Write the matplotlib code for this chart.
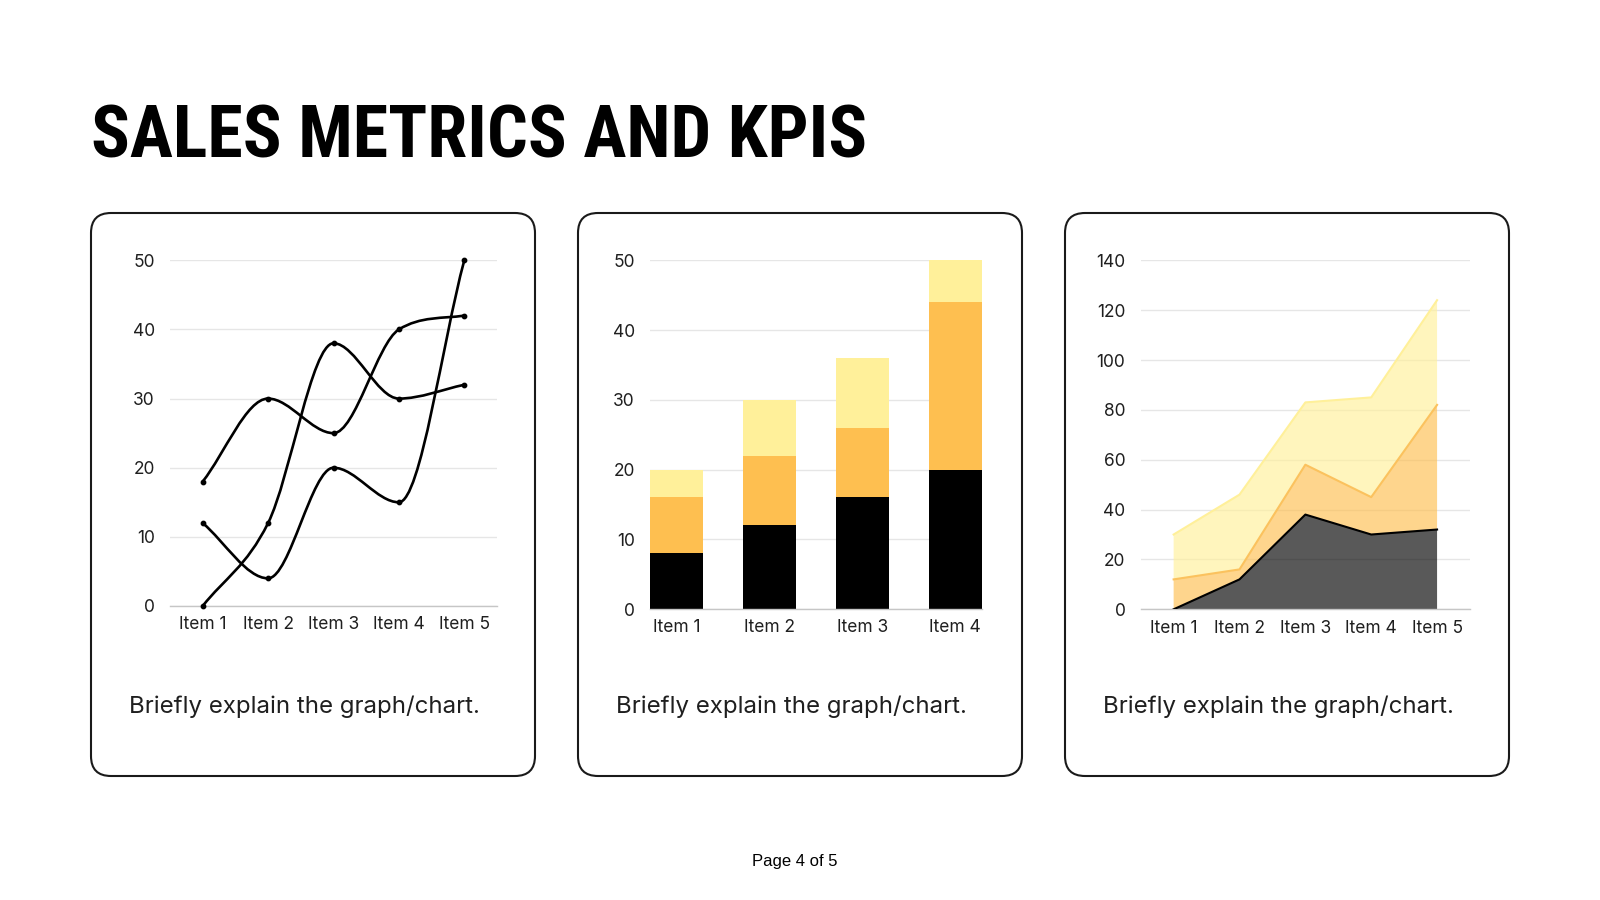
import numpy as np
import matplotlib
matplotlib.use("Agg")
import matplotlib.pyplot as plt
from matplotlib.path import Path
from matplotlib.patches import PathPatch, FancyBboxPatch

# ---------------- data ----------------
line_items = ["Item 1", "Item 2", "Item 3", "Item 4", "Item 5"]
line_a = [18, 30, 25, 40, 42]
line_b = [12, 4, 20, 15, 50]
line_c = [0, 12, 38, 30, 32]
line_ticks = [0, 10, 20, 30, 40, 50]

bar_items = ["Item 1", "Item 2", "Item 3", "Item 4"]
bar_black = [8, 12, 16, 20]
bar_orange = [8, 10, 10, 24]
bar_yellow = [4, 8, 10, 6]
bar_ticks = [0, 10, 20, 30, 40, 50]

area_items = ["Item 1", "Item 2", "Item 3", "Item 4", "Item 5"]
area_dark = [0, 12, 38, 30, 32]
area_orange = [12, 4, 20, 15, 50]
area_yellow = [18, 30, 25, 40, 42]
area_ticks = [0, 20, 40, 60, 80, 100, 120, 140]

title = "SALES METRICS AND KPIS"
caption = "Briefly explain the graph/chart."
footer = "Page 4 of 5"

# ---------------- style ----------------
W, H = 1600, 900
TICK_FONT = ["Inter", "DejaVu Sans"]
BLACK = "#000000"
ORANGE = "#FEBF50"
YELLOW = "#FFF09A"
GRID = "#e6e6e6"
AXIS = "#c6c6c6"
TXT = "#1f1f1f"

fig = plt.figure(figsize=(16, 9), dpi=100)
fig.patch.set_facecolor("white")
bg = fig.add_axes([0, 0, 1, 1])
bg.set_xlim(0, W)
bg.set_ylim(H, 0)
bg.axis("off")

bg.text(91, 157, title, fontsize=51.8, fontweight="heavy",
        family=["Roboto Condensed", "DejaVu Sans"], stretch="condensed",
        color="black", ha="left", va="baseline")

card_left = [91, 578, 1065]
card_w, card_top, card_h = 444, 213, 563
for cl in card_left:
    bg.add_patch(FancyBboxPatch((cl + 20, card_top + 20), card_w - 40, card_h - 40,
                                boxstyle="round,pad=20", fc="white", ec="#1a1a1a", lw=1.5))
    bg.text(cl + 38, 713, caption, fontsize=17.3, family=TICK_FONT, color=TXT,
            ha="left", va="baseline")

bg.text(795, 866, footer, fontsize=12, family=["Liberation Sans", "DejaVu Sans"],
        color="black", ha="center", va="baseline")


def px_axes(left, right, top, bottom):
    return fig.add_axes([left / W, 1 - bottom / H, (right - left) / W, (bottom - top) / H])


def style_axes(ax, ticks, labels):
    ax.set_facecolor("none")
    for s in ["top", "right", "left"]:
        ax.spines[s].set_visible(False)
    ax.spines["bottom"].set_color(AXIS)
    ax.spines["bottom"].set_linewidth(1)
    ax.set_yticks(ticks)
    ax.set_ylim(ticks[0], ticks[-1])
    ax.yaxis.grid(True, color=GRID, lw=1)
    ax.set_axisbelow(True)
    ax.tick_params(axis="both", length=0, labelsize=12.5, labelcolor=TXT)
    ax.tick_params(axis="y", pad=11)
    ax.tick_params(axis="x", pad=7.5)
    ax.set_xticks(range(len(labels)))
    ax.set_xticklabels(labels)
    for lab in ax.get_xticklabels() + ax.get_yticklabels():
        lab.set_family(TICK_FONT)


def monotone_path(xs, ys):
    xs = np.asarray(xs, float)
    ys = np.asarray(ys, float)
    n = len(xs)
    dx = np.diff(xs)
    d = np.diff(ys) / dx
    m = np.zeros(n)
    m[0], m[-1] = d[0], d[-1]
    for i in range(1, n - 1):
        m[i] = 0.0 if d[i - 1] * d[i] <= 0 else (d[i - 1] + d[i]) / 2
    for i in range(n - 1):
        if d[i] == 0:
            m[i] = m[i + 1] = 0
        else:
            a, b = m[i] / d[i], m[i + 1] / d[i]
            s = a * a + b * b
            if s > 9:
                t = 3 / np.sqrt(s)
                m[i], m[i + 1] = t * a * d[i], t * b * d[i]
    verts = [(xs[0], ys[0])]
    codes = [Path.MOVETO]
    for i in range(n - 1):
        h = dx[i]
        verts += [(xs[i] + h / 3, ys[i] + m[i] * h / 3),
                  (xs[i + 1] - h / 3, ys[i + 1] - m[i + 1] * h / 3),
                  (xs[i + 1], ys[i + 1])]
        codes += [Path.CURVE4] * 3
    return Path(verts, codes)


# ---------------- chart 1: smooth lines ----------------
ax1 = px_axes(170, 497, 260.3, 606)
style_axes(ax1, line_ticks, line_items)
ax1.set_xlim(-0.5, len(line_items) - 0.5)
x5 = np.arange(len(line_items))
for series in (line_a, line_b, line_c):
    ax1.add_patch(PathPatch(monotone_path(x5, series), fill=False, ec=BLACK, lw=1.9,
                            clip_on=False, zorder=3))
    ax1.scatter(x5, series, s=10, color=BLACK, zorder=4, clip_on=False)

# ---------------- chart 2: stacked bars ----------------
ax2 = px_axes(650, 981.5, 260.3, 609)
style_axes(ax2, bar_ticks, bar_items)
bw = 0.57
ax2.set_xlim(-bw / 2, len(bar_items) - 1 + bw / 2)
x4 = np.arange(len(bar_items))
b1 = np.array(bar_black)
b2 = np.array(bar_orange)
ax2.bar(x4, bar_black, width=bw, color=BLACK, zorder=2)
ax2.bar(x4, bar_orange, width=bw, bottom=b1, color=ORANGE, zorder=2)
ax2.bar(x4, bar_yellow, width=bw, bottom=b1 + b2, color=YELLOW, zorder=2)

# ---------------- chart 3: stacked area ----------------
ax3 = px_axes(1140.7, 1470, 260.3, 609.3)
style_axes(ax3, area_ticks, area_items)
ax3.set_xlim(-0.5, len(area_items) - 0.5)
xa = np.arange(len(area_items))
ax3.stackplot(xa, area_dark, area_orange, area_yellow,
              colors=[BLACK, ORANGE, YELLOW], alpha=0.65, zorder=2, lw=0)
c1 = np.array(area_dark)
c2 = c1 + np.array(area_orange)
c3 = c2 + np.array(area_yellow)
ax3.plot(xa, c3, color=YELLOW, lw=1.5, zorder=3)
ax3.plot(xa, c2, color="#FBC25E", lw=1.5, zorder=3)
ax3.plot(xa, c1, color=BLACK, lw=1.5, zorder=3)

fig.savefig("out.png", dpi=100, facecolor="white")
